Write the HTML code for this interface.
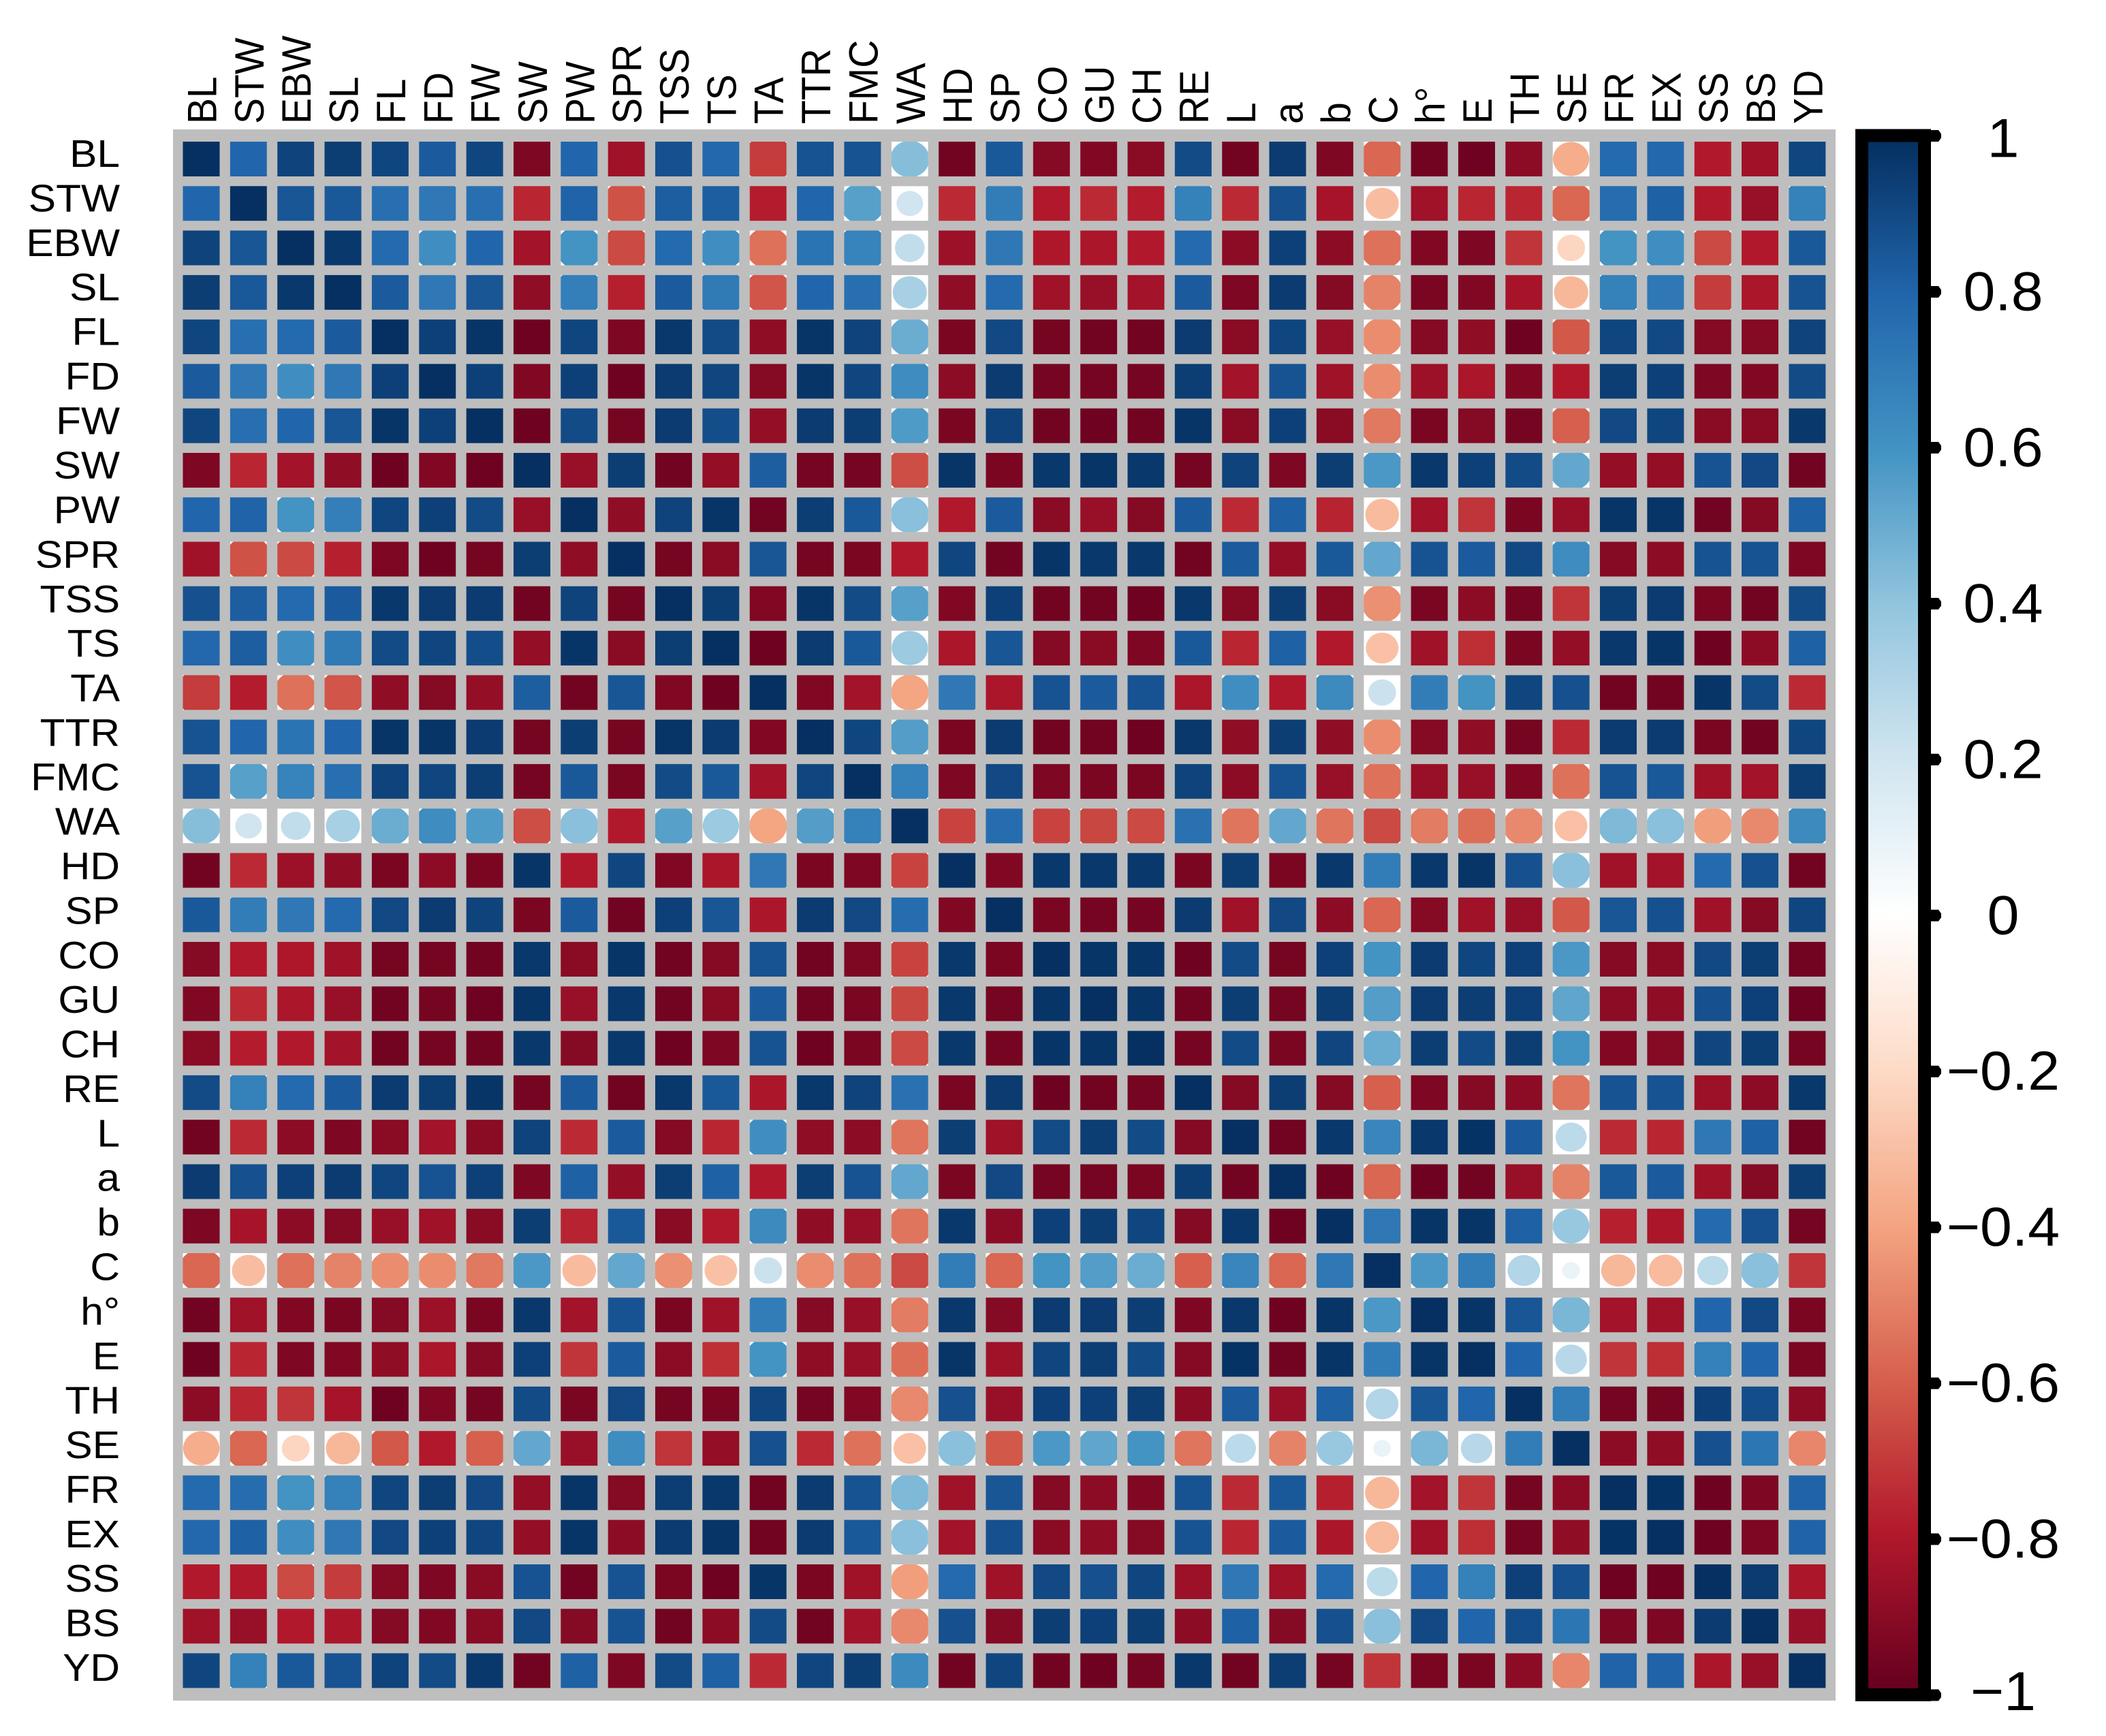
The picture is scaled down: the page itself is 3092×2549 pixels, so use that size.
<!DOCTYPE html>
<html lang="en">
<head>
<meta charset="utf-8">
<title>Correlation matrix</title>
<style>
html,body{margin:0;padding:0;background:#fff;}
svg{display:block;}
text{font-family:"Liberation Sans",Arial,sans-serif;fill:#000;}
</style>
</head>
<body>
<svg id="chart" xmlns="http://www.w3.org/2000/svg" width="3092" height="2549" viewBox="0 0 3092 2549">
  <rect x="0" y="0" width="3092" height="2549" fill="#ffffff"/>
  <rect x="254" y="190" width="2441" height="2307" fill="#bebebe"/>
  <g id="cells"></g>
  <g id="rowLabels"></g>
  <g id="colLabels"></g>
  <defs>
    <linearGradient id="cbGrad" x1="0" y1="0" x2="0" y2="1"></linearGradient>
  </defs>
  <g id="colorbar">
    <rect x="2743" y="208" width="73" height="2271" fill="url(#cbGrad)"/>
    <rect x="2733.5" y="199" width="92" height="2289.5" fill="none" stroke="#000" stroke-width="19"/>
  </g>
  <g id="cbTicks"></g>
</svg>
<script>
const variables = ["BL","STW","EBW","SL","FL","FD","FW","SW","PW","SPR","TSS","TS","TA","TTR","FMC","WA","HD","SP","CO","GU","CH","RE","L","a","b","C","h°","E","TH","SE","FR","EX","SS","BS","YD"];
const palette = ["#67001F","#B2182B","#D6604D","#F4A582","#FDDBC7","#FFFFFF","#D1E5F0","#92C5DE","#4393C3","#2166AC","#053061"];
const colorbarTicks = [1,0.8,0.6,0.4,0.2,0,-0.2,-0.4,-0.6,-0.8,-1];
const colorbarTickLabels = ["1","0.8","0.6","0.4","0.2","0","\u22120.2","\u22120.4","\u22120.6","\u22120.8","\u22121"];
const upperBL = [1,.8,.93,.95,.92,.84,.92,-.94,.8,-.85,.88,.79,-.7,.87,.87,.43,-.97,.85,-.92,-.93,-.91,.9,-.97,.96,-.94,-.58,-.97,-.98,-.9,-.37,.78,.79,-.8,-.85,.92];
const upperSTW = [1,.86,.85,.76,.72,.76,-.76,.81,-.64,.83,.83,-.79,.8,.55,.2,-.75,.7,-.8,-.75,-.79,.68,-.75,.88,-.83,-.31,-.85,-.76,-.76,-.58,.77,.82,-.8,-.87,.68];
const upperEBW = [1,.97,.78,.62,.8,-.84,.6,-.66,.78,.62,-.55,.74,.67,.25,-.86,.72,-.81,-.82,-.8,.78,-.9,.94,-.9,-.55,-.93,-.94,-.72,-.22,.6,.62,-.66,-.8,.85];
const upperSL = [1,.84,.72,.86,-.89,.69,-.78,.84,.71,-.63,.8,.76,.33,-.89,.78,-.85,-.87,-.84,.84,-.94,.96,-.92,-.5,-.95,-.93,-.83,-.33,.68,.72,-.7,-.82,.87];
const upperFL = [1,.94,.98,-.98,.92,-.94,.97,.9,-.89,.98,.93,.5,-.95,.91,-.96,-.97,-.97,.96,-.91,.92,-.87,-.47,-.92,-.89,-.98,-.62,.92,.91,-.92,-.92,.93];
const upperFD = [1,.94,-.93,.94,-.98,.96,.92,-.92,.98,.92,.63,-.9,.96,-.96,-.96,-.96,.95,-.84,.87,-.85,-.47,-.86,-.82,-.93,-.8,.95,.94,-.94,-.93,.9];
const upperFW = [1,-.98,.9,-.96,.96,.89,-.88,.96,.95,.57,-.95,.93,-.97,-.98,-.97,.98,-.91,.94,-.91,-.53,-.95,-.92,-.96,-.6,.91,.92,-.91,-.91,.97];
const upperSW = [1,-.87,.95,-.97,-.88,.83,-.96,-.96,-.65,.98,-.95,.97,.98,.97,-.96,.93,-.94,.95,.58,.97,.94,.9,.52,-.88,-.88,.87,.91,-.97];
const upperPW = [1,-.89,.93,.98,-.97,.95,.85,.42,-.8,.84,-.91,-.87,-.92,.84,-.75,.82,-.77,-.32,-.84,-.72,-.95,-.87,.98,.98,-.97,-.92,.82];
const upperSPR = [1,-.96,-.91,.86,-.96,-.95,-.8,.92,-.97,.98,.97,.97,-.97,.84,-.88,.85,.52,.87,.84,.91,.63,-.92,-.9,.87,.87,-.94];
const upperTSS = [1,.95,-.93,.98,.9,.55,-.93,.94,-.97,-.97,-.98,.97,-.92,.95,-.91,-.46,-.95,-.9,-.96,-.72,.95,.96,-.95,-.97,.9];
const upperTS = [1,-.98,.96,.85,.37,-.82,.86,-.92,-.91,-.94,.85,-.76,.82,-.8,-.3,-.85,-.74,-.95,-.88,.97,.98,-.98,-.9,.82];
const upperTA = [1,-.93,-.84,-.4,.72,-.82,.87,.84,.87,-.82,.62,-.8,.64,.22,.7,.6,.92,.88,-.97,-.97,.98,.9,-.75];
const upperTTR = [1,.92,.56,-.95,.96,-.97,-.97,-.98,.97,-.89,.95,-.89,-.47,-.92,-.89,-.96,-.75,.96,.96,-.95,-.97,.92];
const upperFMC = [1,.68,-.94,.91,-.94,-.95,-.95,.93,-.9,.87,-.87,-.55,-.87,-.87,-.93,-.55,.87,.85,-.85,-.84,.95];
const upperWA = [1,-.68,.77,-.68,-.67,-.66,.75,-.54,.52,-.54,-.66,-.52,-.56,-.48,-.3,.45,.42,-.42,-.48,.64];
const upperHD = [1,-.93,.97,.97,.97,-.95,.95,-.95,.97,.7,.97,.98,.88,.42,-.85,-.84,.78,.88,-.97];
const upperSP = [1,-.95,-.96,-.96,.96,-.85,.91,-.9,-.58,-.92,-.85,-.87,-.62,.86,.88,-.85,-.92,.92];
const upperCO = [1,.98,.98,-.98,.9,-.96,.94,.6,.96,.92,.94,.58,-.92,-.91,.91,.95,-.97];
const upperGU = [1,.98,-.97,.95,-.96,.95,.56,.96,.95,.94,.53,-.9,-.89,.88,.94,-.98];
const upperCH = [1,-.96,.9,-.95,.92,.5,.95,.9,.95,.6,-.93,-.92,.92,.95,-.96];
const upperRE = [1,-.92,.95,-.92,-.6,-.94,-.92,-.9,-.54,.87,.87,-.86,-.9,.97];
const upperL = [1,-.97,.97,.66,.97,.99,.84,.27,-.75,-.76,.72,.82,-.97];
const upperA = [1,-.98,-.58,-.98,-.97,-.87,-.5,.85,.84,-.85,-.92,.95];
const upperB = [1,.72,.98,.98,.82,.38,-.78,-.82,.78,.88,-.96];
const upperC = [1,.58,.7,.3,.09,-.33,-.32,.27,.42,-.72];
const upperH = [1,.98,.86,.46,-.84,-.85,.8,.91,-.95];
const upperE = [1,.8,.28,-.72,-.74,.68,.8,-.95];
const upperTH = [1,.7,-.96,-.96,.94,.89,-.9];
const upperSE = [1,-.9,-.89,.88,.73,-.49];
const upperFR = [1,.99,-.98,-.94,.81];
const upperEX = [1,-.98,-.94,.81];
const upperSS = [1,.96,-.82];
const upperBS = [1,-.87];
const upperYD = [1];
const upperRows = [upperBL,upperSTW,upperEBW,upperSL,upperFL,upperFD,upperFW,upperSW,upperPW,upperSPR,upperTSS,upperTS,upperTA,upperTTR,upperFMC,upperWA,upperHD,upperSP,upperCO,upperGU,upperCH,upperRE,upperL,upperA,upperB,upperC,upperH,upperE,upperTH,upperSE,upperFR,upperEX,upperSS,upperBS,upperYD];

const NS = "http://www.w3.org/2000/svg";
function xScale(i){ return 295.5 + 69.35 * i; }
function yScale(i){ return 233.5 + 65.28 * i; }
function barY(v){ return 1344.25 - 1144.75 * v; }
function labelOffset(v){ return v >= 1 ? 31 : (v <= -1 ? 22 : 27); }
function hexToRgb(h){ return [parseInt(h.slice(1,3),16),parseInt(h.slice(3,5),16),parseInt(h.slice(5,7),16)]; }
function colorFor(v){
  const p = Math.max(0, Math.min(1, (v + 1) / 2)) * (palette.length - 1);
  const a = Math.min(Math.floor(p), palette.length - 2);
  const t = p - a;
  const c0 = hexToRgb(palette[a]), c1 = hexToRgb(palette[a + 1]);
  return "rgb(" + c0.map((c, k) => Math.round(c + (c1[k] - c) * t)).join(",") + ")";
}
function valueAt(r, c){ return r <= c ? upperRows[r][c - r] : upperRows[c][r - c]; }
function make(tag, attrs){
  const el = document.createElementNS(NS, tag);
  for (const k in attrs) el.setAttribute(k, attrs[k]);
  return el;
}

const TILE_W = 54, TILE_H = 51, RADIUS_FACTOR = 1.62;
const cellsG = document.getElementById("cells");
variables.forEach(function(rowName, r){
  variables.forEach(function(colName, c){
    const v = valueAt(r, c);
    const tile = make("svg", {x: xScale(c) - TILE_W / 2, y: yScale(r) - TILE_H / 2, width: TILE_W, height: TILE_H});
    
    
    const bg = make("rect", {x: 0, y: 0, width: TILE_W, height: TILE_H, fill: "#ffffff"});
    
    
    const k = RADIUS_FACTOR * Math.sqrt(Math.abs(v));
    const mark = make("ellipse", {cx: TILE_W / 2, cy: TILE_H / 2, rx: TILE_W / 2 * k, ry: TILE_H / 2 * k, fill: colorFor(v)});
    
    
    tile.appendChild(bg);
    tile.appendChild(mark);
    cellsG.appendChild(tile);
  });
});

const rowG = document.getElementById("rowLabels");
const colG = document.getElementById("colLabels");
variables.forEach(function(name, i){
  const rowText = make("text", {"font-size": 57, "text-anchor": "end", transform: "translate(176," + (245 + 65.38 * i) + ") scale(1.06,1)"});
  
  
  rowText.textContent = name;
  rowG.appendChild(rowText);
  const colText = make("text", {"font-size": 57, "text-anchor": "start", transform: "translate(" + (xScale(i) + 22) + ",182) scale(1.06,1) rotate(-90)"});
  
  
  colText.textContent = name;
  colG.appendChild(colText);
});

const grad = document.getElementById("cbGrad");
palette.slice().reverse().forEach(function(col, i){
  grad.appendChild(make("stop", {offset: i / (palette.length - 1), "stop-color": col}));
});

const tickG = document.getElementById("cbTicks");
colorbarTicks.forEach(function(v, i){
  const y = barY(v);
  const mark = make("path", {d: "M2835 " + (y - 8.5) + "H2846L2850 " + (y - 3) + "V" + (y + 3) + "L2846 " + (y + 8.5) + "H2835Z", fill: "#000"});
  
  
  tickG.appendChild(mark);
  const label = make("text", {"font-size": 81, "text-anchor": "middle", transform: "translate(2941," + (y + labelOffset(v)) + ") scale(1.04,1)"});
  
  
  label.textContent = colorbarTickLabels[i];
  tickG.appendChild(label);
});
</script>
</body>
</html>
